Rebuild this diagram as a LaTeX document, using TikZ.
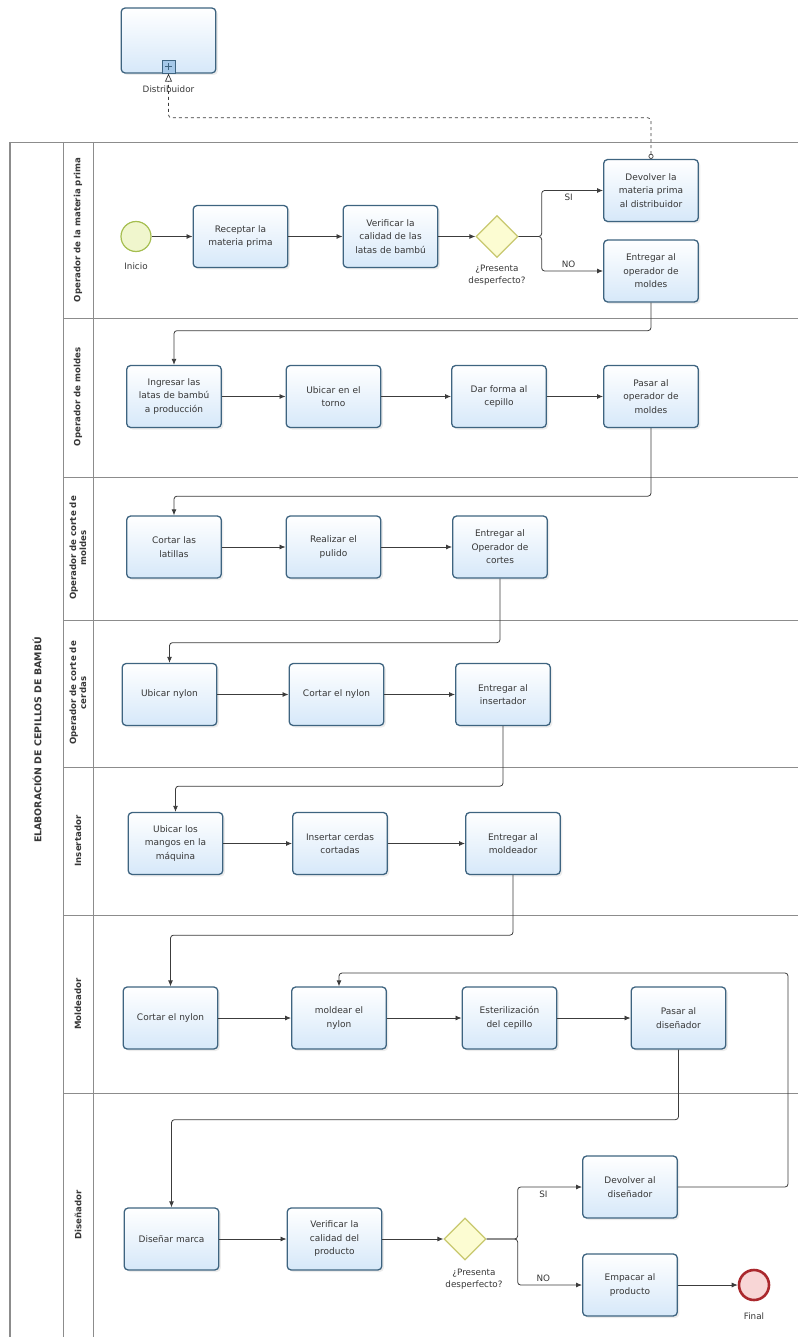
\documentclass[tikz,border=0pt]{standalone}
\usepackage{fontspec}
\setmainfont{DejaVu Sans}
\usetikzlibrary{arrows.meta,positioning,shapes.geometric,shadows}

\definecolor{borde}{RGB}{62,100,128}
\definecolor{relleno}{RGB}{214,232,249}
\definecolor{texto}{RGB}{55,55,55}
\definecolor{linea}{RGB}{60,60,60}
\definecolor{carril}{RGB}{140,140,140}
\definecolor{inicioborde}{RGB}{165,190,80}
\definecolor{iniciorelleno}{RGB}{240,246,205}
\definecolor{finborde}{RGB}{170,40,45}
\definecolor{finrelleno}{RGB}{248,214,214}
\definecolor{compborde}{RGB}{200,200,110}
\definecolor{comprelleno}{RGB}{252,252,210}
\definecolor{marcarelleno}{RGB}{165,200,232}

\tikzset{
  tarea/.style={rectangle, rounded corners=4pt, draw=borde, line width=1.3pt,
    top color=white, bottom color=relleno, minimum width=93pt, minimum height=62pt,
    text width=88pt, align=center, font=\fontsize{9}{13.5}\selectfont, text=texto,
    drop shadow={opacity=0.15, shadow xshift=2pt, shadow yshift=-2pt}},
  compuerta/.style={diamond, aspect=1, draw=compborde, fill=comprelleno, line width=1.3pt,
    minimum width=42pt, minimum height=42pt, inner sep=0pt},
  evinicio/.style={circle, draw=inicioborde, fill=iniciorelleno, line width=1.2pt, minimum size=30pt, inner sep=0pt},
  evfinal/.style={circle, draw=finborde, fill=finrelleno, line width=2.6pt, minimum size=30pt, inner sep=0pt},
  etiqueta/.style={font=\fontsize{8.8}{12}\selectfont, text=texto, align=center, inner sep=1pt},
  rotulo/.style={rotate=90, font=\bfseries\fontsize{8.6}{10}\selectfont, text=texto, align=center},
  flujo/.style={draw=linea, line width=0.8pt, rounded corners=3pt, -{Latex[length=6pt,width=5pt]}},
  mensaje/.style={draw=linea, line width=0.7pt, dashed, rounded corners=3pt,
    {Circle[open,length=5pt]}-{Triangle[open,length=8pt,width=7pt]}},
  marca/.style={rectangle, draw=borde, fill=marcarelleno, line width=1pt, minimum size=13pt, inner sep=0pt}
}

\begin{document}
\begin{tikzpicture}[x=1pt, y=-1pt]
  \useasboundingbox (0,0) rectangle (798,1337);

  % piscina y carriles
  \draw[carril, line width=0.8pt] (10,142) -- (798,142);
  \draw[carril, line width=1.2pt] (10,142) -- (10,1337);
  \draw[carril, line width=0.8pt] (63,142) -- (63,1337) (93,142) -- (93,1337);
  \foreach \y in {318,477,620,767,915,1093}
    \draw[carril, line width=0.8pt] (63,\y) -- (798,\y);
  \node[rotulo, font=\bfseries\fontsize{9.4}{11}\selectfont] (titulo) at (37,740) {ELABORACIÓN DE CEPILLOS DE BAMBÚ};
  \foreach \y/\nombre [count=\i] in {230/{Operador de la materia prima}, 397/{Operador de moldes},
      548/{Operador de corte de\\moldes}, 693/{Operador de corte de\\cerdas}, 841/Insertador,
      1004/Moldeador, 1215/Diseñador}
    \node[rotulo] (carril\i) at (78,\y) {\nombre};

  % distribuidor
  \node[tarea, minimum height=65pt] (dist) at (168.5,40.5) {};
  \node[marca, anchor=south] (mas) at (dist.south) {};
  \draw[borde, line width=1.4pt] ([xshift=-3.5pt]mas.center) -- ([xshift=3.5pt]mas.center)
    ([yshift=-3.5pt]mas.center) -- ([yshift=3.5pt]mas.center);
  \node[etiqueta, below=11pt of dist] (distlbl) {Distribuidor};

  % operador de la materia prima
  \node[evinicio] (inicio) at (136,236.5) {};
  \node[etiqueta, below=10pt of inicio] (iniciolbl) {Inicio};
  \node[tarea] (receptar) at (240.5,236.5) {Receptar la\\materia prima};
  \node[tarea] (verificar) at (390.5,236.5) {Verificar la\\calidad de las\\latas de bambú};
  \node[compuerta] (desp1) at (497,236.5) {};
  \node[etiqueta, below=6pt of desp1] (preg1) {¿Presenta\\desperfecto?};
  \node[tarea] (devolver) at (651,190.5) {Devolver la\\materia prima\\al distribuidor};
  \node[tarea] (entregarMold) at (651,271) {Entregar al\\operador de\\moldes};

  % operador de moldes
  \node[tarea] (ingresar) at (174,396.5) {Ingresar las\\latas de bambú\\a producción};
  \node[tarea] (torno) at (333.5,396.5) {Ubicar en el\\torno};
  \node[tarea] (forma) at (499,396.5) {Dar forma al\\cepillo};
  \node[tarea] (pasarMold) at (651,396.5) {Pasar al\\operador de\\moldes};

  % operador de corte de moldes
  \node[tarea] (latillas) at (174,547) {Cortar las\\latillas};
  \node[tarea] (pulido) at (333.5,547) {Realizar el\\pulido};
  \node[tarea] (entregarCortes) at (500,547) {Entregar al\\Operador de\\cortes};

  % operador de corte de cerdas
  \node[tarea] (ubicarNylon) at (169.5,694.5) {Ubicar nylon};
  \node[tarea] (cortarNylon) at (336.5,694.5) {Cortar el nylon};
  \node[tarea] (entregarIns) at (503,694.5) {Entregar al\\insertador};

  % insertador
  \node[tarea] (mangos) at (175.5,843.5) {Ubicar los\\mangos en la\\máquina};
  \node[tarea] (cerdas) at (340,843.5) {Insertar cerdas\\cortadas};
  \node[tarea] (entregarMoldeador) at (513,843.5) {Entregar al\\moldeador};

  % moldeador
  \node[tarea] (cortarNylonB) at (170.5,1018) {Cortar el nylon};
  \node[tarea] (moldear) at (339,1018) {moldear el\\nylon};
  \node[tarea] (esterilizar) at (509.5,1018) {Esterilización\\del cepillo};
  \node[tarea] (pasarDis) at (678.5,1018) {Pasar al\\diseñador};

  % diseñador
  \node[tarea] (marca) at (171.5,1239) {Diseñar marca};
  \node[tarea] (verificarProd) at (334.5,1239) {Verificar la\\calidad del\\producto};
  \node[compuerta] (desp2) at (465,1239) {};
  \node[etiqueta, below=7pt of desp2, xshift=9pt] (preg2) {¿Presenta\\desperfecto?};
  \node[tarea] (devolverDis) at (630,1187) {Devolver al\\diseñador};
  \node[tarea] (empacar) at (630,1285) {Empacar al\\producto};
  \node[evfinal] (final) at (754,1285) {};
  \node[etiqueta, below=10pt of final] (finallbl) {Final};

  % flujos dentro de cada carril
  \foreach \a/\b in {inicio/receptar, receptar/verificar, verificar/desp1, ingresar/torno, torno/forma,
      forma/pasarMold, latillas/pulido, pulido/entregarCortes, ubicarNylon/cortarNylon,
      cortarNylon/entregarIns, mangos/cerdas, cerdas/entregarMoldeador, cortarNylonB/moldear,
      moldear/esterilizar, esterilizar/pasarDis, marca/verificarProd, verificarProd/desp2, empacar/final}
    \draw[flujo] (\a) -- (\b);

  % decisiones
  \draw[flujo] (desp1.east) -- ++(23,0) |- node[etiqueta, pos=0.72, below=2pt] (si1) {SI} (devolver.west);
  \draw[flujo] (desp1.east) -- ++(23,0) |- node[etiqueta, pos=0.72, above=2pt] (no1) {NO} (entregarMold.west);
  \draw[flujo] (desp2.east) -- ++(31,0) |- node[etiqueta, pos=0.7, below=3pt] (si2) {SI} (devolverDis.west);
  \draw[flujo] (desp2.east) -- ++(31,0) |- node[etiqueta, pos=0.7, above=2pt] (no2) {NO} (empacar.west);

  % paso de un carril al siguiente
  \draw[flujo] (entregarMold.south) -- ++(0,28) -| (ingresar.north);
  \draw[flujo] (pasarMold.south) -- ++(0,68) -| (latillas.north);
  \draw[flujo] (entregarCortes.south) -- ++(0,64) -| (ubicarNylon.north);
  \draw[flujo] (entregarIns.south) -- ++(0,60) -| (mangos.north);
  \draw[flujo] (entregarMoldeador.south) -- ++(0,60) -| (cortarNylonB.north);
  \draw[flujo] (pasarDis.south) -- ++(0,70) -| (marca.north);

  % retorno al moldeador
  \coordinate (vuelta) at (788,973);
  \draw[flujo] (devolverDis.east) -| (vuelta) -| (moldear.north);

  % mensaje al distribuidor
  \draw[mensaje] (devolver.north) -- ++(0,-41) -| (mas.south);
\end{tikzpicture}
\end{document}
